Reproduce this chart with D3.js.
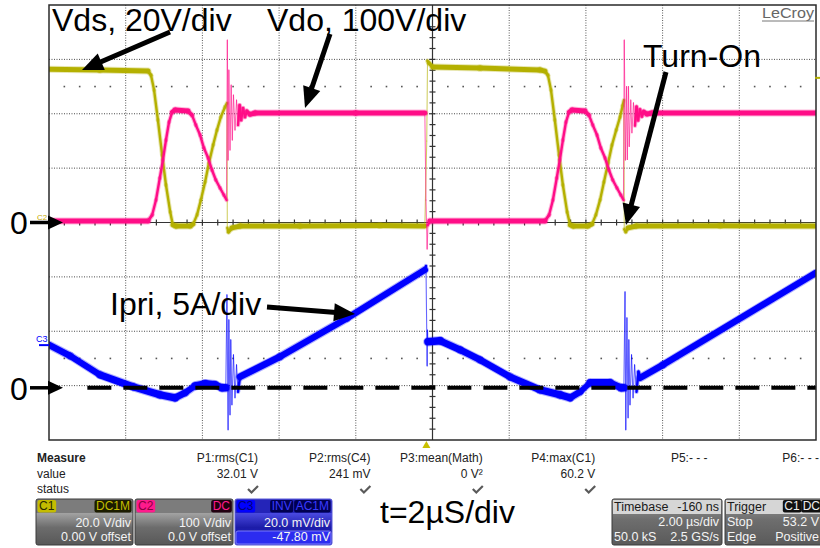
<!DOCTYPE html>
<html>
<head>
<meta charset="utf-8">
<script src="https://cdn.jsdelivr.net/npm/d3@7"></script>
<style>
  body { margin: 0; background: #fff; }
  svg { display: block; font-family: "Liberation Sans", Arial, Helvetica, sans-serif; }
</style>
</head>
<body>
<svg id="scope" width="820" height="548"></svg>
<script>
// ---- trace data, [time in µs, value in channel units] ----
// C1 Vds (V)
const vdsTrace = [
  [-10.00, 56.4], [-8.67, 56.1], [-7.42, 55.7], [-7.34, 54.2], [-7.26, 48.7], [-7.16, 37.7],
  [-7.05, 24.8], [-6.95, 13.8], [-6.84, 3.9], [-6.77, -0.9], [-6.69, -1.3], [-6.32, -1.3],
  [-6.24, -0.6], [-6.14, 2.8], [-6.04, 8.3], [-5.93, 14.9], [-5.83, 21.9], [-5.72, 28.5],
  [-5.62, 34.0], [-5.52, 38.8], [-5.41, 42.5], [-5.36, 43.9],
  [-5.35, -2.0], [-5.32, -3.5], [-5.23, -2.0], [-5.02, -1.3], [-3.46, -1.3], [-1.37, -1.1], [-0.20, -1.3],
  [-0.15, 30.0], [-0.13, 59.4], [-0.09, 58.6], [0.01, 57.2], [1.24, 56.8], [2.80, 56.1], [2.93, 55.7],
  [3.01, 54.2], [3.09, 48.7], [3.19, 37.7], [3.30, 24.8], [3.40, 13.8], [3.51, 3.9], [3.59, -0.9],
  [3.67, -1.3], [4.05, -1.3], [4.16, -0.6], [4.26, 2.8], [4.37, 8.3], [4.47, 14.9], [4.58, 21.9],
  [4.68, 28.5], [4.79, 34.0], [4.89, 38.8], [4.96, 43.0], [4.99, 45.0],
  [5.00, -2.5], [5.04, -3.5], [5.10, -2.0], [5.31, -1.3], [7.50, -1.2], [10.00, -1.3]
];
// C2 Vdo (V)
const vdoTrace = [
  [-10.00, 2.8], [-7.42, 2.8], [-7.31, 13.8], [-7.21, 41.4], [-7.11, 81.8], [-7.03, 114.9],
  [-6.95, 151.6], [-6.87, 184.7], [-6.79, 203.1], [-6.71, 206.8], [-6.38, 204.9], [-6.27, 197.5],
  [-6.17, 179.1], [-6.06, 160.8], [-5.96, 136.9], [-5.85, 118.5], [-5.75, 96.5], [-5.65, 78.1],
  [-5.54, 63.4], [-5.44, 50.5], [-5.37, 41.4],
  [-5.35, 335.4], [-5.33, 114.9], [-5.31, 280.2], [-5.28, 133.2], [-5.25, 252.7], [-5.22, 151.6],
  [-5.19, 234.3], [-5.15, 170.0], [-5.11, 225.1], [-5.07, 179.1], [-5.03, 215.9], [-4.99, 188.4],
  [-4.94, 210.4], [-4.89, 193.9], [-4.84, 204.9], [-4.76, 199.0], [-4.63, 201.2],
  [-2.00, 201.5], [-0.20, 201.2], [-0.17, 41.4], [-0.14, -48.7], [-0.12, -4.6], [-0.07, 2.8], [2.93, 2.8],
  [3.04, 13.8], [3.14, 41.4], [3.24, 81.8], [3.32, 114.9], [3.40, 151.6], [3.48, 184.7],
  [3.56, 203.1], [3.64, 206.8], [3.97, 204.9], [4.08, 197.5], [4.18, 179.1], [4.29, 160.8],
  [4.39, 136.9], [4.50, 118.5], [4.60, 96.5], [4.70, 78.1], [4.81, 63.4], [4.91, 50.5], [4.98, 41.4],
  [5.00, 335.4], [5.03, 114.9], [5.06, 250.0], [5.08, 116.0], [5.11, 250.0], [5.13, 140.0],
  [5.17, 225.0], [5.20, 165.0], [5.24, 220.0], [5.28, 178.0], [5.32, 213.0], [5.36, 188.0],
  [5.41, 208.0], [5.46, 195.0], [5.51, 204.0], [5.59, 199.5], [5.72, 201.2], [10.00, 201.2]
];
// C3 Ipri (A)
const ipriTrace = [
  [-10.00, 3.95], [-9.45, 2.94], [-8.67, 1.19], [-7.80, 0.09], [-7.11, -0.64], [-6.71, -0.92],
  [-6.45, -0.46], [-6.19, 0.18], [-5.93, 0.37], [-5.67, 0.28], [-5.49, 0.0], [-5.39, 0.0],
  [-5.36, 8.55], [-5.33, -3.86], [-5.31, 6.25], [-5.28, -2.48], [-5.26, 4.41], [-5.23, -1.56],
  [-5.19, 3.03], [-5.15, -0.92], [-5.11, 2.11], [-5.07, -0.37], [-5.02, 1.01],
  [-3.98, 2.85], [-2.23, 6.40], [-0.20, 10.84], [-0.17, 11.2], [-0.14, 2.02], [-0.13, 5.3],
  [-0.12, 4.23], [0.20, 4.32], [0.72, 3.49], [1.24, 2.57], [2.02, 1.01], [2.80, -0.18],
  [3.32, -0.64], [3.59, -0.92], [3.85, -0.37], [4.11, 0.46], [4.63, 0.46], [4.92, 0.0], [4.99, 0.0],
  [5.02, 8.82], [5.04, -3.86], [5.07, 6.43], [5.10, -2.76], [5.12, 4.41], [5.15, -1.56],
  [5.19, 3.03], [5.23, -0.92], [5.27, 2.11], [5.32, -0.37], [5.37, 1.47], [5.42, 0.92],
  [6.01, 2.11], [10.00, 10.57]
];

// channel settings: units per division and zero position (divisions from centre)
const perDiv = { vds: 20, vdo: 100, ipri: 5 };
const zeroDiv = { vds: 0, vdo: 0, ipri: -3.04 };
const triggerLevel = 53.2;    // V on C1
const triggerTime = -0.16;    // µs

// measurement strip
const measureNames = ["P1:rms(C1)", "P2:rms(C4)", "P3:mean(Math)", "P4:max(C1)", "P5:- - -", "P6:- - -"];
const measureValues = ["32.01 V", "241 mV", "0 V²", "60.2 V", "", ""];
const measureOk = [true, true, true, true, false, false];

// channel descriptor boxes
const chanTags = ["C1", "C2", "C3"];
const chanCoupling = [["DC1M"], ["DC"], ["INV", "AC1M"]];
const chanScale = ["20.0 V/div", "100 V/div", "20.0 mV/div"];
const chanOffset = ["0.00 V offset", "0.0 V offset", "-47.80 mV"];
const timebaseRows = [["Timebase", "-160 ns"], ["", "2.00 µs/div"], ["50.0 kS", "2.5 GS/s"]];
const triggerRows = [["Trigger", ""], ["Stop", "53.2 V"], ["Edge", "Positive"]];

// ---- layout ----
const plotL = 49, plotR = 816, plotT = 5, plotB = 440;
const svg = d3.select("#scope");
const x = d3.scaleLinear().domain([-10, 10]).range([plotL, plotR]);
const yDiv = d3.scaleLinear().domain([-4, 4]).range([plotB, plotT]);
const chY = key => v => yDiv(v / perDiv[key] + zeroDiv[key]);
const yVds = chY("vds"), yVdo = chY("vdo"), yIpri = chY("ipri");

const colYellow = "#b4b000", colPink = "#ff0d87", colBlue = "#0000ff";

const defs = svg.append("defs");
defs.append("clipPath").attr("id", "clip").append("rect")
  .attr("x", plotL).attr("y", plotT).attr("width", plotR - plotL).attr("height", plotB - plotT);

function grad(id, stops) {
  const lg = defs.append("linearGradient").attr("id", id)
    .attr("x1", 0).attr("y1", 0).attr("x2", 0).attr("y2", 1);
  stops.forEach(([o, c]) => lg.append("stop").attr("offset", o).attr("stop-color", c));
}
grad("gray", [[0, "#7c7c7c"], [0.3, "#7c7c7c"], [0.31, "#a2a2a2"], [0.62, "#6c6c6c"], [1, "#585858"]]);
grad("blue", [[0, "#2424b8"], [0.3, "#2424b8"], [0.31, "#4a4ae0"], [0.62, "#1c1ca8"], [1, "#2020c8"]]);
grad("grayLow", [[0, "#9a9a9a"], [0.45, "#6e6e6e"], [1, "#5a5a5a"]]);

svg.append("rect").attr("width", 820).attr("height", 548).attr("fill", "#fff");

// ---- graticule ----
const grid = svg.append("g");
grid.selectAll(".vg").data(d3.range(-8, 9, 2).filter(d => d !== 0)).join("line")
  .attr("x1", d => x(d)).attr("x2", d => x(d)).attr("y1", plotT).attr("y2", plotB)
  .attr("stroke", "#5a5a5a").attr("stroke-width", 1).attr("stroke-dasharray", "1,1.5");
grid.selectAll(".hg").data(d3.range(-3, 4, 1).filter(d => d !== 0)).join("line")
  .attr("y1", d => yDiv(d)).attr("y2", d => yDiv(d)).attr("x1", plotL).attr("x2", plotR)
  .attr("stroke", "#4a4a4a").attr("stroke-width", 1).attr("stroke-dasharray", "1,1.5");

const minorT = d3.range(-9.6, 9.7, 0.4).filter(t => Math.abs(t / 2 - Math.round(t / 2)) > 0.01);
[2.5, -2.5].forEach(dv => {
  grid.selectAll(null).data(minorT).join("rect")
    .attr("x", t => x(t) - 0.8).attr("y", yDiv(dv) - 0.8).attr("width", 1.6).attr("height", 1.6)
    .attr("fill", "#555");
});

// centre cross with ticks
grid.append("line").attr("x1", x(0)).attr("x2", x(0)).attr("y1", plotT).attr("y2", plotB)
  .attr("stroke", "#333").attr("stroke-width", 1.2);
grid.append("line").attr("x1", plotL).attr("x2", plotR).attr("y1", yDiv(0)).attr("y2", yDiv(0))
  .attr("stroke", "#333").attr("stroke-width", 1.2);
grid.selectAll(".xt").data(d3.range(-9.6, 9.7, 0.4)).join("line")
  .attr("x1", d => x(d)).attr("x2", d => x(d)).attr("y1", yDiv(0) - 3).attr("y2", yDiv(0) + 3)
  .attr("stroke", "#333").attr("stroke-width", 1.2);
grid.selectAll(".yt").data(d3.range(-3.8, 3.9, 0.2)).join("line")
  .attr("y1", d => yDiv(d)).attr("y2", d => yDiv(d)).attr("x1", x(0) - 3).attr("x2", x(0) + 3)
  .attr("stroke", "#333").attr("stroke-width", 1.2);

// ---- traces ----
// the noisy band keeps a constant vertical height, so steep segments draw thinner;
// near-vertical spikes (ringing, switching steps) are drawn as fine light lines
function drawTrace(data, yf, color, band) {
  const pts = data.map(d => [x(d[0]), yf(d[1])]);
  const segs = d3.pairs(pts).map(([a, b]) => {
    const dx = Math.abs(b[0] - a[0]), dy = Math.abs(b[1] - a[1]);
    const slope = dy / Math.max(dx, 0.001);
    const spike = slope > 14;
    const w = Math.max(spike ? 1.1 : 2.4, band / Math.sqrt(1 + slope * slope));
    return { a, b, w, spike };
  });
  const g = svg.append("g").attr("clip-path", "url(#clip)");
  g.selectAll(".halo").data(segs.filter(s => !s.spike)).join("line")
    .attr("x1", s => s.a[0]).attr("y1", s => s.a[1]).attr("x2", s => s.b[0]).attr("y2", s => s.b[1])
    .attr("stroke", color).attr("stroke-opacity", 0.3).attr("stroke-width", s => s.w + 2)
    .attr("stroke-linecap", "round");
  g.selectAll(".core").data(segs).join("line")
    .attr("x1", s => s.a[0]).attr("y1", s => s.a[1]).attr("x2", s => s.b[0]).attr("y2", s => s.b[1])
    .attr("stroke", color).attr("stroke-width", s => s.w)
    .attr("stroke-opacity", s => s.spike ? 0.6 : 1)
    .attr("stroke-linecap", "round");
}
drawTrace(vdsTrace, yVds, colYellow, 5);
drawTrace(vdoTrace, yVdo, colPink, 5);
drawTrace(ipriTrace, yIpri, colBlue, 7.5);

// zero-current dashed reference
svg.append("line").attr("x1", x(-9)).attr("x2", plotR).attr("y1", yIpri(0)).attr("y2", yIpri(0))
  .attr("stroke", "#000").attr("stroke-width", 4).attr("stroke-dasharray", "24,12");

// border
svg.append("rect").attr("x", plotL).attr("y", plotT).attr("width", plotR - plotL).attr("height", plotB - plotT)
  .attr("fill", "none").attr("stroke", "#2a2a2a").attr("stroke-width", 1.5);

// markers
svg.append("text").attr("x", 37).attr("y", yVds(0) - 3).attr("font-size", 8).attr("fill", "#c8a800").text("C2");
svg.append("text").attr("x", 36).attr("y", yIpri(4.2)).attr("font-size", 9).attr("fill", colBlue).text("C3");
svg.append("line").attr("x1", 39).attr("x2", plotL).attr("y1", yIpri(4.2) + 3).attr("y2", yIpri(4.2) + 3)
  .attr("stroke", colBlue).attr("stroke-width", 2);
svg.append("line").attr("x1", plotR - 1).attr("x2", 820).attr("y1", yVds(triggerLevel)).attr("y2", yVds(triggerLevel))
  .attr("stroke", colYellow).attr("stroke-width", 2);
svg.append("path")
  .attr("d", `M${x(triggerTime)},${plotB + 1} l4,7 l-8,0 Z`).attr("fill", "#c8c000");
svg.append("text").attr("x", 762).attr("y", 18).attr("font-size", 14).attr("fill", "#666")
  .attr("textLength", 52).attr("lengthAdjust", "spacingAndGlyphs").text("LeCroy");
svg.append("line").attr("x1", 762).attr("x2", 814).attr("y1", 21).attr("y2", 21).attr("stroke", "#777").attr("stroke-width", 1);

// ---- annotations ----
const ann = svg.append("g");
function arrow(x1, y1, x2, y2, hl, hw, sw) {
  const a = Math.atan2(y2 - y1, x2 - x1);
  const bx = x2 - hl * Math.cos(a), by = y2 - hl * Math.sin(a);
  ann.append("line").attr("x1", x1).attr("y1", y1).attr("x2", bx + 2 * Math.cos(a)).attr("y2", by + 2 * Math.sin(a))
    .attr("stroke", "#000").attr("stroke-width", sw);
  const px = -Math.sin(a) * hw, py = Math.cos(a) * hw;
  ann.append("polygon").attr("points", `${x2},${y2} ${bx + px},${by + py} ${bx - px},${by - py}`).attr("fill", "#000");
}
const bigFont = 32;
ann.append("text").attr("x", 52).attr("y", 31).attr("font-size", bigFont).text("Vds, 20V/div");
ann.append("text").attr("x", 267).attr("y", 31).attr("font-size", bigFont).text("Vdo, 100V/div");
ann.append("text").attr("x", 643).attr("y", 67).attr("font-size", bigFont).text("Turn-On");
ann.append("text").attr("x", 110).attr("y", 315).attr("font-size", bigFont).text("Ipri, 5A/div");
ann.append("text").attr("x", 10).attr("y", yVds(0) + 11).attr("font-size", bigFont).text("0");
ann.append("text").attr("x", 10).attr("y", yIpri(0) + 12).attr("font-size", bigFont).text("0");
ann.append("text").attr("x", 380).attr("y", 523).attr("font-size", bigFont).text("t=2µS/div");

arrow(170, 32, 82, 70, 21, 9, 5);
arrow(330, 34, 305, 108, 21, 9, 5);
arrow(666, 72, 626, 225, 21, 9, 5);
arrow(267, 307, 355, 314, 21, 9, 5);
arrow(30, yVds(0), 63, yVds(0), 15, 7, 3.5);
arrow(30, yIpri(0), 63, yIpri(0), 15, 7, 3.5);

// ---- measurement strip ----
const meas = svg.append("g").attr("font-size", 12).attr("fill", "#222");
meas.append("text").attr("x", 37).attr("y", 462).attr("font-weight", "bold").text("Measure");
meas.append("text").attr("x", 37).attr("y", 478).text("value");
meas.append("text").attr("x", 37).attr("y", 493).text("status");
const colRight = d3.scaleLinear().domain([0, 5]).range([258, 820]);
measureNames.forEach((n, i) => {
  const r = colRight(i) - (i === 5 ? 1 : 0);
  meas.append("text").attr("x", r).attr("y", 462).attr("text-anchor", "end").text(n);
  meas.append("text").attr("x", r).attr("y", 478).attr("text-anchor", "end").text(measureValues[i]);
  if (measureOk[i]) {
    meas.append("path").attr("d", `M${r - 10},${489} L${r - 6.5},${492.5} L${r},${486}`)
      .attr("fill", "none").attr("stroke", "#5a5a5a").attr("stroke-width", 2.2);
  }
});

// ---- descriptor boxes ----
const boxY = 499, boxH = 46;
const boxes = svg.append("g").attr("font-size", 12.5);
function tag(gp, xx, txt, bg, fg, anchor) {
  const t = gp.append("text").attr("x", xx).attr("y", boxY + 11).attr("font-size", 12)
    .attr("text-anchor", anchor).attr("fill", fg).text(txt);
  const bb = t.node().getBBox();
  gp.insert("rect", () => t.node()).attr("x", bb.x - 1.5).attr("y", boxY + 1)
    .attr("width", bb.width + 3).attr("height", 12.5).attr("rx", 2).attr("fill", bg);
  return bb;
}
const chanBoxX = [36, 135, 235], chanBoxW = [97, 98, 97];
const tagBg = ["#c4bc00", "#ff1a8c", "#0000ff"], tagFg = ["#2a2a00", "#8a0040", "#00007a"];
const rtagBg = ["#1c1c00", "#220010", "#000050"], rtagFg = ["#c4bc00", "#ff1a8c", "#3a3aff"];
chanTags.forEach((c, i) => {
  const gx = boxes.append("g");
  const x0 = chanBoxX[i], w = chanBoxW[i];
  gx.append("rect").attr("x", x0).attr("y", boxY).attr("width", w).attr("height", boxH).attr("rx", 2)
    .attr("fill", i === 2 ? "url(#blue)" : "url(#gray)").attr("stroke", i === 2 ? "#5a5ad8" : "#3a3a3a");
  if (i === 2) {
    gx.append("rect").attr("x", x0 + 1).attr("y", boxY + 32).attr("width", w - 2).attr("height", 13)
      .attr("rx", 2).attr("fill", "#2c2cf0").attr("stroke", "#9090ff").attr("stroke-width", 0.8);
  }
  tag(gx, x0 + 3, c, tagBg[i], tagFg[i], "start");
  let rx = x0 + w - 3;
  chanCoupling[i].slice().reverse().forEach(cp => {
    const bb = tag(gx, rx, cp, rtagBg[i], rtagFg[i], "end");
    rx = bb.x - 4;
  });
  gx.append("text").attr("x", x0 + w - 2).attr("y", boxY + 28).attr("text-anchor", "end").attr("fill", "#f4f4f4").text(chanScale[i]);
  gx.append("text").attr("x", x0 + w - 2).attr("y", boxY + 42).attr("text-anchor", "end").attr("fill", "#f4f4f4").text(chanOffset[i]);
});

function infoBox(x0, w, rows, tags) {
  const gx = boxes.append("g");
  gx.append("rect").attr("x", x0).attr("y", boxY).attr("width", w).attr("height", boxH).attr("rx", 2)
    .attr("fill", "url(#grayLow)").attr("stroke", "#3a3a3a");
  gx.append("rect").attr("x", x0 + 1).attr("y", boxY + 1).attr("width", w - 2).attr("height", 14)
    .attr("fill", "#d6d6d6");
  rows.forEach((r, j) => {
    const yy = boxY + 12 + j * 15;
    const col = j === 0 ? "#1a1a1a" : "#f4f4f4";
    gx.append("text").attr("x", x0 + 2).attr("y", yy).attr("fill", col).text(r[0]);
    if (r[1]) gx.append("text").attr("x", x0 + w - 3).attr("y", yy).attr("text-anchor", "end").attr("fill", col).text(r[1]);
  });
  if (tags) {
    let rx = x0 + w - 2;
    tags.slice().reverse().forEach(tg => {
      const bb = tag(gx, rx, tg, "#111", "#eee", "end");
      rx = bb.x - 3;
    });
  }
}
infoBox(612, 110, timebaseRows);
infoBox(725, 97, triggerRows, ["C1", "DC"]);
</script>
</body>
</html>
